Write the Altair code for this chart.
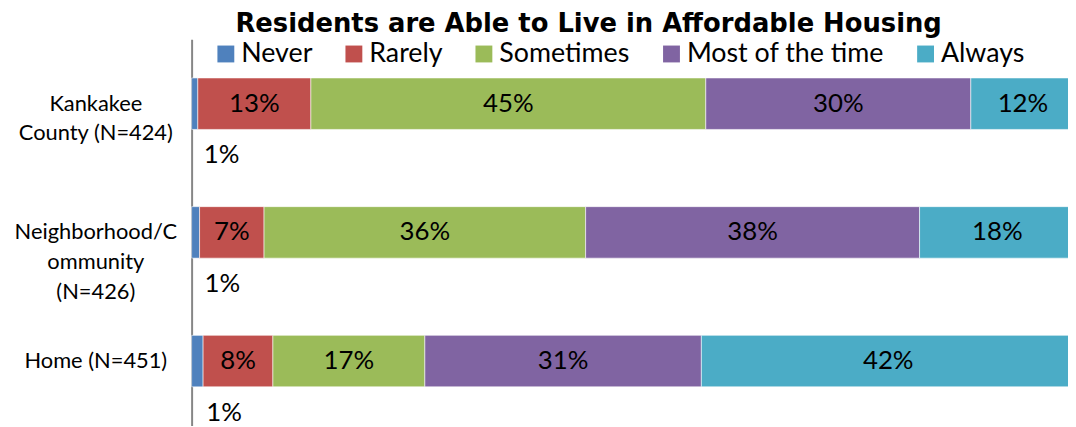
import altair as alt
import pandas as pd

title_text = ["Residents are Able to Live in Affordable Housing"]
groups = ["Kankakee|County (N=424)", "Neighborhood/C|ommunity|(N=426)", "Home (N=451)"]
responses = ["Never", "Rarely", "Sometimes", "Most of the time", "Always"]
colors = ["#4F81BD", "#C0504D", "#9BBB59", "#8064A2", "#4BACC6"]

never = [0.7, 0.9, 1.3]
rarely = [12.8, 7.3, 7.9]
sometimes = [44.7, 36.4, 17.2]
most = [30.0, 37.8, 31.3]
always = [11.8, 17.6, 42.3]

series = [never, rarely, sometimes, most, always]
rows = []
for ri, resp in enumerate(responses):
    for gi, g in enumerate(groups):
        rows.append({"group": g, "response": resp, "idx": ri, "value": series[ri][gi]})
df = pd.DataFrame(rows)

FONT = "Lato"

yenc = alt.Y(
    "group:N",
    sort=groups,
    scale=alt.Scale(paddingInner=0.6, paddingOuter=0.3),
    axis=alt.Axis(
        title=None,
        labelExpr="split(datum.label, '|')",
        labelAlign="center",
        labelBaseline="middle",
        labelPadding=97,
        ticks=False,
        tickSize=0,
        domainColor="#868686",
        domainWidth=2,
        labelFont=FONT,
        labelFontSize=22,
        labelLineHeight=30,
        labelColor="black",
        labelLimit=0,
    ),
)

xscale = alt.Scale(domain=[0, 99.2])

base = alt.Chart(df)

bars = base.mark_bar(stroke="white", strokeWidth=0.8, strokeOpacity=0.7).encode(
    y=yenc,
    x=alt.X("value:Q", stack="zero", scale=xscale, axis=None),
    color=alt.Color(
        "response:N",
        sort=responses,
        scale=alt.Scale(domain=responses, range=colors),
        legend=alt.Legend(
            title=None,
            orient="none",
            legendX=21,
            legendY=1,
            direction="horizontal",
            columns=5,
            symbolType="square",
            symbolSize=289,
            symbolStrokeWidth=0,
            symbolOpacity=1,
            labelFont=FONT,
            labelFontSize=27,
            labelOffset=2,
            columnPadding=28,
            labelLimit=0,
            labelColor="black",
            padding=0,
        ),
    ),
    order=alt.Order("idx:Q"),
)

stacked = base.transform_stack(
    stack="value", groupby=["group"], sort=[alt.SortField("idx")], as_=["x0", "x1"]
).transform_calculate(
    mid="(datum.x0 + datum.x1) / 2",
    lab="format(datum.value, '.0f') + '%'",
)

inner = stacked.transform_filter("datum.idx > 0").mark_text(
    font=FONT, fontSize=26, color="black", baseline="middle", align="center"
).encode(
    y=alt.Y("group:N", sort=groups),
    x=alt.X("mid:Q", scale=xscale),
    text="lab:N",
)

outer = stacked.transform_filter("datum.idx == 0").mark_text(
    font=FONT, fontSize=26, color="black", baseline="middle", align="center", dx=27, dy=52
).encode(
    y=alt.Y("group:N", sort=groups),
    x=alt.X("mid:Q", scale=xscale),
    text="lab:N",
)

title = alt.Chart(pd.DataFrame({"t": title_text})).mark_text(
    font="DejaVu Sans", fontSize=26, fontWeight="bold", color="black",
    align="center", baseline="alphabetic"
).encode(
    text="t:N",
    x=alt.value(400),
    y=alt.value(-7),
)

chart = (
    alt.layer(bars, inner, outer, title)
    .properties(
        width=883,
        height=389,
        autosize=alt.AutoSizeParams(type="none"),
        padding={"left": 185, "top": 30, "right": 0, "bottom": 0},
    )
    .configure_view(stroke=None)
)

chart.save("out.html", embed_options={"renderer": "svg", "actions": False})
